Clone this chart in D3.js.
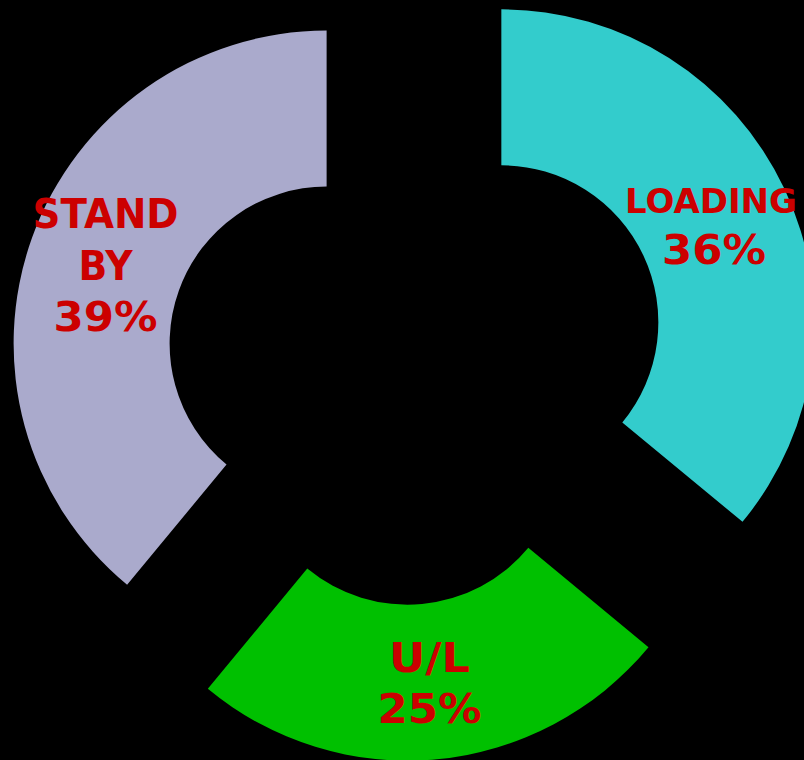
<!DOCTYPE html>
<html>
<head>
<meta charset="utf-8">
<script src="https://cdn.jsdelivr.net/npm/d3@7"></script>
<style>
  html, body { margin: 0; padding: 0; background: #000; }
  svg { display: block; }
</style>
</head>
<body>
<svg id="chart" width="804" height="760"></svg>
<script>
// Share of time per activity
const categories = ["LOADING", "U/L", "STAND BY"];
const values = [36, 25, 39];
const colors = ["#33CCCC", "#00C000", "#AAAACC"];

// How far each slice is pulled out from the centre
const explode = { "LOADING": 112, "U/L": 78, "STAND BY": 78 };
// Rendered width of each label line (compresses/expands the bold face)
const lineWidths = { "36%": 104, "STAND": 146, "BY": 54, "39%": 104, "U/L": 81, "25%": 104 };

const width = 804, height = 760;
const cx = 400, cy = 370;
const innerR = 157, outerR = 313;
const labelColor = "#CC0000";
const lineGap = 51.5;

const svg = d3.select("#chart");
svg.append("rect").attr("width", width).attr("height", height).attr("fill", "#000");

const rows = categories.map((c, i) => ({ name: c, value: values[i], color: colors[i] }));

const pie = d3.pie().sort(null).value(d => d.value).startAngle(0).endAngle(2 * Math.PI);
const arc = d3.arc().innerRadius(innerR).outerRadius(outerR);

const slices = svg.append("g").attr("transform", `translate(${cx},${cy})`)
  .selectAll("g.slice")
  .data(pie(rows))
  .join("g")
  .attr("class", "slice")
  .attr("transform", d => {
    const mid = (d.startAngle + d.endAngle) / 2;
    const off = explode[d.data.name];
    return `translate(${off * Math.sin(mid)},${-off * Math.cos(mid)})`;
  });

slices.append("path")
  .attr("d", arc)
  .attr("fill", d => d.data.color);

slices.each(function(d) {
  const [x, y] = arc.centroid(d);
  const lines = d.data.name.split(" ").concat([d.data.value + "%"]);
  const n = lines.length;
  const g = d3.select(this);
  lines.forEach((ln, i) => {
    const t = g.append("text")
      .attr("font-family", "'DejaVu Sans', Verdana, sans-serif")
      .attr("font-weight", "bold")
      .attr("fill", labelColor)
      .attr("text-anchor", "middle")
      .attr("x", ln === "LOADING" ? x - 3 : x)
      .attr("y", y + (i - (n - 1) / 2) * lineGap + 16)
      .attr("font-size", ln === "LOADING" ? 34 : 40)
      .text(ln);
    if (lineWidths[ln]) {
      t.attr("textLength", lineWidths[ln]).attr("lengthAdjust", "spacingAndGlyphs");
    }
  });
});
</script>
</body>
</html>
